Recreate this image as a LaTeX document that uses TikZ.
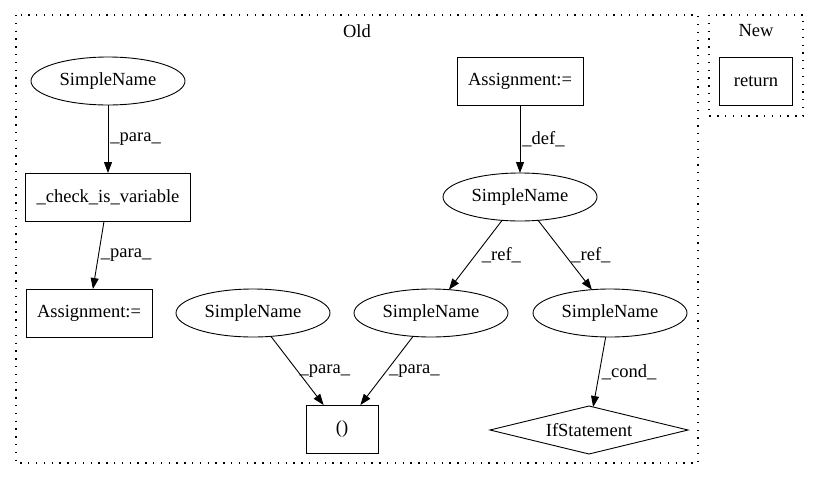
\documentclass[tikz,border=0pt]{standalone}
\usepackage{fontspec}
\setmainfont{Liberation Serif}
\usetikzlibrary{positioning, shapes.geometric, arrows.meta}

\tikzset{
  ename/.style={draw, ellipse, line width=0.9pt, outer sep=0pt, minimum width=154pt, minimum height=48pt, inner sep=0pt, font=\fontsize{18.5}{22}\selectfont},
  bname/.style={draw, rectangle, line width=0.9pt, outer sep=0pt, minimum width=72pt, minimum height=48pt, inner xsep=11pt, font=\fontsize{18.5}{22}\selectfont},
  dname/.style={draw, diamond, aspect=4, line width=0.9pt, outer sep=0pt, minimum width=198pt, minimum height=48pt, inner sep=0pt, font=\fontsize{18.5}{22}\selectfont},
  arr/.style={-{Triangle[length=11pt, width=8pt]}, line width=0.9pt},
  lbl/.style={right, inner sep=2pt, font=\fontsize{18.5}{22}\selectfont},
  clus/.style={line width=1.3pt, dash pattern=on 1.3pt off 6.5pt},
}

\begin{document}
\begin{tikzpicture}[x=1pt, y=-1pt]
    \useasboundingbox (0,0) rectangle (819,480);

    % clusters
    \draw[clus] (16,15) rectangle (698,463);
    \draw[clus] (709,15) rectangle (803,116);
    \node[font=\fontsize{18.5}{22}\selectfont] (old) at (357,31) {Old};
    \node[font=\fontsize{18.5}{22}\selectfont] (new) at (756,31) {New};

    % left branch
    \node[ename] (sn1) at (108,81) {SimpleName};
    \node[bname, below=68pt of sn1, minimum width=162pt] (chk) {\_check\_is\_variable};
    \node[bname, below=68pt of chk, xshift=-19pt, minimum width=125pt] (asl) {Assignment:=};

    % right branch
    \node[bname, minimum width=126pt] (ast) at (520,81) {Assignment:=};
    \node[ename, below=68pt of ast] (snm) {SimpleName};
    \node[ename, below=68pt of snm, xshift=-89pt] (snc) {SimpleName};
    \node[ename, below=68pt of snm, xshift=90pt] (snr) {SimpleName};
    \node[ename, left=24pt of snc] (snl) {SimpleName};
    \node[bname, below=68pt of snl, xshift=89pt] (par) {()};
    \node[dname, below=69pt of snr, xshift=-21pt] (ifs) {IfStatement};

    % new
    \node[bname, minimum width=73pt] (ret) at (756,81) {return};

    % Connect the nodes
    \draw[arr] (sn1) -- node[lbl] {\_para\_} (chk);
    \draw[arr] (chk) -- node[lbl] {\_para\_} (asl);
    \draw[arr] (ast) -- node[lbl] {\_def\_} (snm);
    \draw[arr] (snm) -- node[lbl, xshift=4pt] {\_ref\_} (snc);
    \draw[arr] (snm) -- node[lbl, xshift=4pt] {\_ref\_} (snr);
    \draw[arr] (snr) -- node[lbl] {\_cond\_} (ifs);
    \draw[arr] (snl) -- node[lbl] {\_para\_} (par);
    \draw[arr] (snc) -- node[lbl] {\_para\_} (par);
\end{tikzpicture}
\end{document}
